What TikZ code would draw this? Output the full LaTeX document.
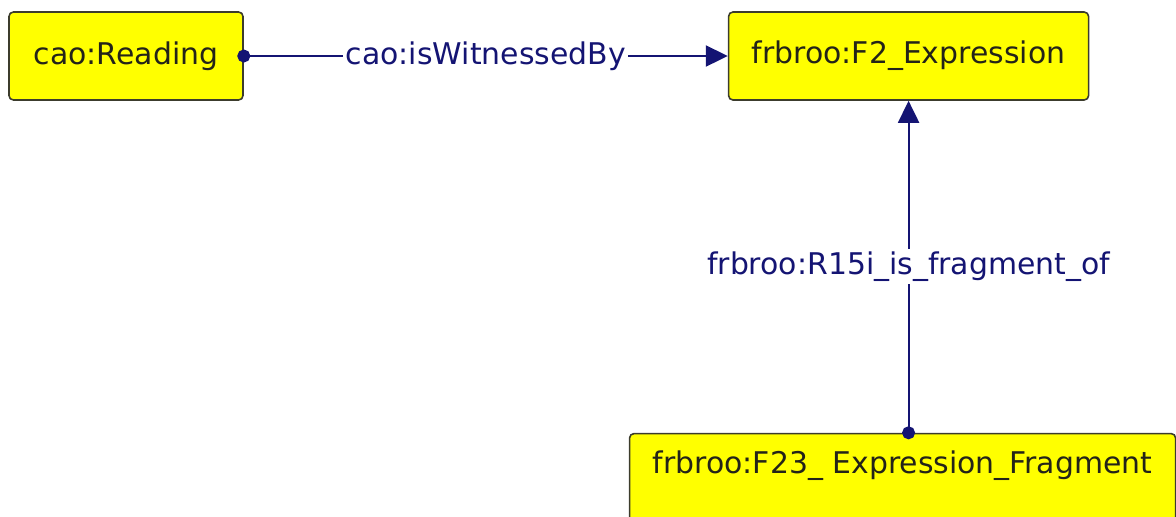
\documentclass[tikz,border=0pt]{standalone}
\usepackage{fontspec}
\setmainfont{DejaVu Sans}
\usepackage{tikz}
\usetikzlibrary{arrows.meta,positioning}

\definecolor{boxyellow}{RGB}{255,255,0}
\definecolor{boxline}{RGB}{60,60,45}
\definecolor{boxtext}{RGB}{35,35,25}
\definecolor{navy}{RGB}{20,20,115}

\begin{document}
\begin{tikzpicture}[entity/.style={rectangle,rounded corners=2.5pt,draw=boxline,fill=boxyellow,text=boxtext,line width=0.9pt,font=\fontsize{17}{20}\selectfont,minimum height=1.76cm}, edge/.style={line width=1.2pt,draw=navy,{Circle[length=0.26cm]}-{Triangle[length=0.44cm,width=0.42cm]},shorten <=-0.13cm}, property/.style={fill=white,text=navy,inner sep=1.5pt,font=\fontsize{17}{20}\selectfont}]
\useasboundingbox (0,0) rectangle (23.52,-10.32);
\clip (0,0) rectangle (23.52,-10.32);

\node(reading)[entity,minimum width=4.68cm] at (2.52,-1.12) {cao:Reading};
\node(expr)[entity,minimum width=7.2cm,right=9.68cm of reading] {frbroo:F2\_Expression};
\node(frag)[entity,minimum width=10.92cm,minimum height=0pt,inner ysep=0pt,text height=0.8cm,text depth=1.4cm,below=6.64cm of expr,xshift=-0.12cm] {frbroo:F23\_ Expression\_Fragment};

\draw [edge] (reading) to node[property]{cao:isWitnessedBy} (expr);
\draw [edge] (frag.north -| expr.south) to node[property]{frbroo:R15i\_is\_fragment\_of} (expr);
\end{tikzpicture}
\end{document}
